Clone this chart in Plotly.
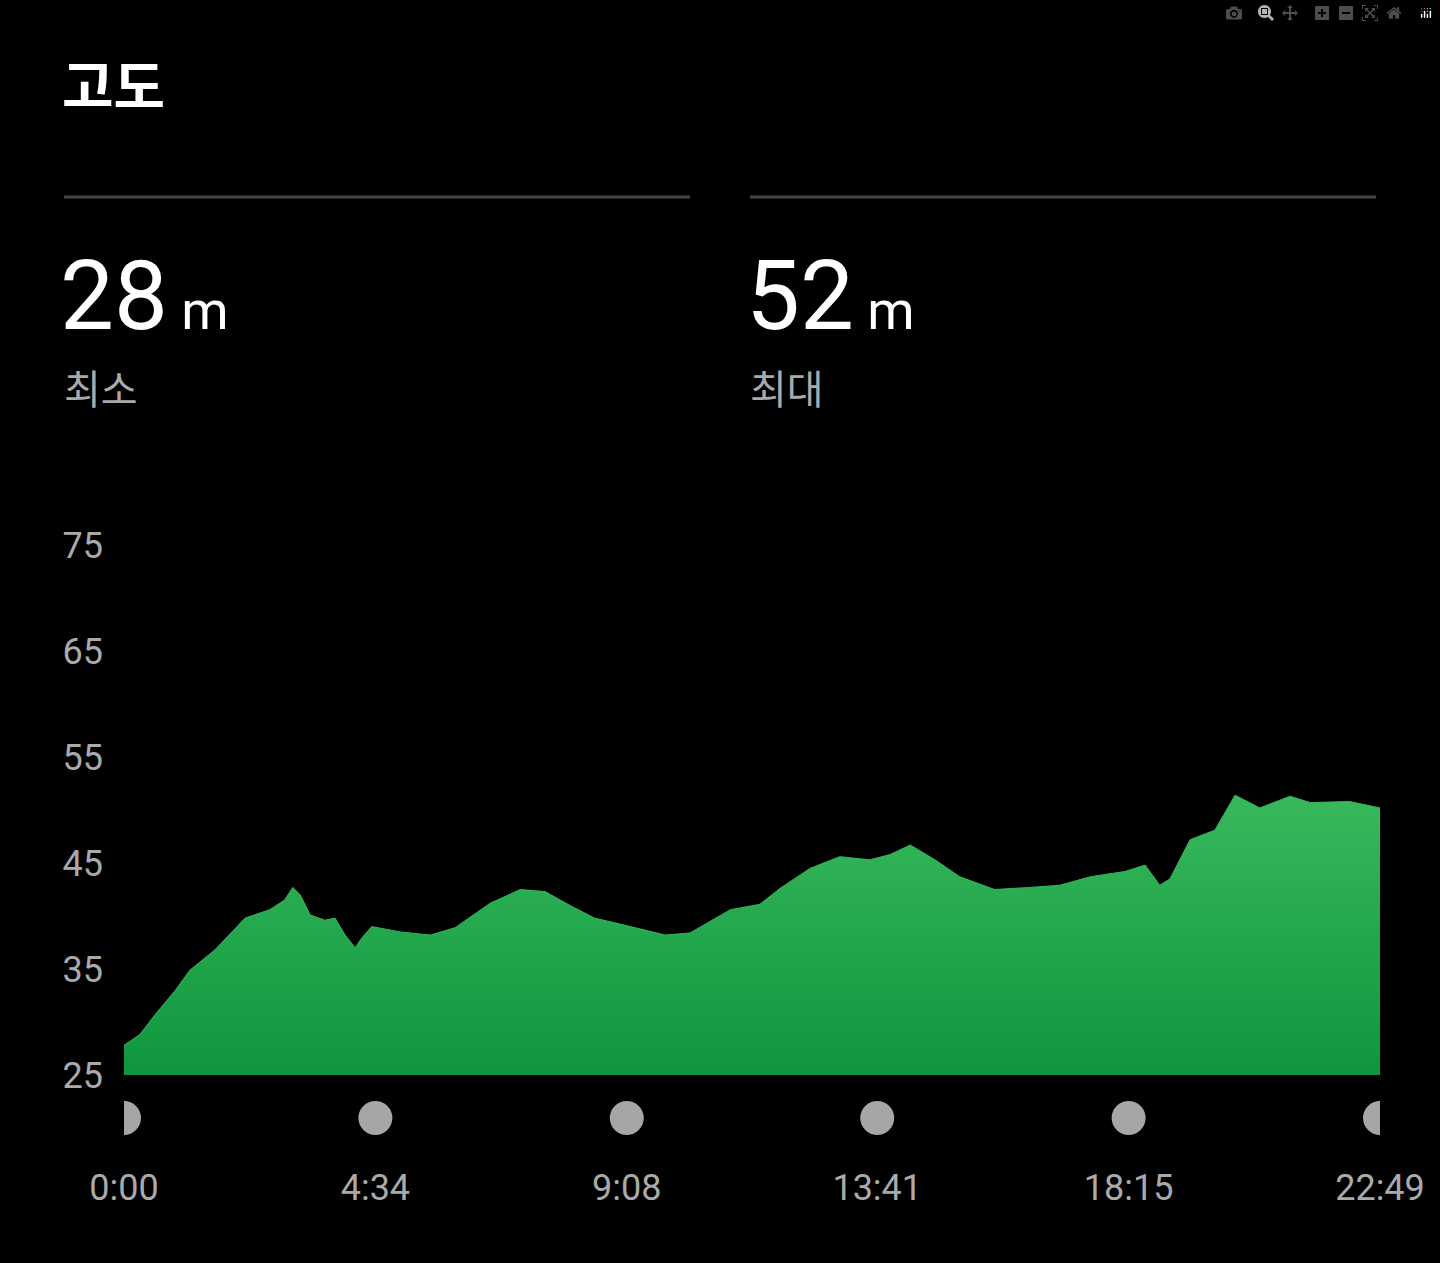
import plotly.graph_objects as go

times = [0,17,34,56,72,99,132,159,175,184,192,203,219,230,241,252,259,270,301,334,361,399,432,459,486,513,552,590,617,661,693,715,748,780,813,835,857,884,911,949,988,1020,1053,1091,1113,1129,1140,1162,1189,1211,1238,1271,1293,1336,1369]
elev = [27.8,28.8,30.7,33.0,34.9,36.8,39.8,40.6,41.5,42.7,42.0,40.1,39.6,39.8,38.2,37.0,37.9,39.0,38.5,38.2,38.9,41.2,42.5,42.3,41.0,39.8,39.0,38.2,38.4,40.6,41.1,42.6,44.5,45.6,45.3,45.8,46.7,45.3,43.7,42.5,42.7,42.9,43.7,44.2,44.8,42.9,43.5,47.2,48.1,51.4,50.2,51.3,50.7,50.8,50.2]
tick_secs = [0,274,548,821,1095,1369]
tick_text = ["0:00","4:34","9:08","13:41","18:15","22:49"]
y_ticks = [25,35,45,55,65,75]
min_val, max_val = 28, 52

FONT = "Roboto, 'Noto Sans CJK KR', sans-serif"
fig = go.Figure()
fig.add_trace(go.Scatter(x=[times[0], times[-1]], y=[25, 25], mode="lines",
                         line=dict(width=0), hoverinfo="skip", showlegend=False))
fig.add_trace(go.Scatter(x=times, y=elev, mode="lines", line=dict(width=1, color="#36b55a"),
                         fill="tonexty",
                         fillgradient=dict(type="vertical",
                                           colorscale=[[0, "#0f963e"], [1, "#38b95c"]]),
                         showlegend=False))

dot_y = -43/530
r_px = 17
shapes = [
    dict(type="line", xref="paper", yref="paper", x0=-60/1256, x1=566/1256,
         y0=1+(545-197)/530, y1=1+(545-197)/530, line=dict(color="#444444", width=3)),
    dict(type="line", xref="paper", yref="paper", x0=626/1256, x1=1252/1256,
         y0=1+(545-197)/530, y1=1+(545-197)/530, line=dict(color="#444444", width=3)),
]
for t in tick_secs:
    shapes.append(dict(type="circle", xref="x", yref="paper", xsizemode="pixel",
                       ysizemode="pixel", xanchor=t, yanchor=dot_y,
                       x0=-r_px, x1=r_px, y0=-r_px, y1=r_px,
                       fillcolor="#a6a6a6", line=dict(width=0)))

fig.update_layout(
    width=1440, height=1263, paper_bgcolor="black", plot_bgcolor="black",
    margin=dict(l=124, r=60, t=545, b=188),
    font=dict(family=FONT, color="#aaaaaa"),
    xaxis=dict(range=[0, 1369], tickvals=tick_secs, ticktext=tick_text, showgrid=False,
               zeroline=False, showline=False, ticks="", ticklabelstandoff=88,
               tickfont=dict(size=36, color="#aaaaaa")),
    yaxis=dict(range=[25, 75], tickvals=y_ticks, showgrid=False, zeroline=False,
               showline=False, ticks="", ticklabelstandoff=20,
               tickfont=dict(size=36, color="#aaaaaa")),
    shapes=shapes,
)

def ann(x, y, text, size, color, bold=False):
    fig.add_annotation(xref="paper", yref="paper", x=(x-124)/1256, y=1+(545-y)/530,
                       text=f"<b>{text}</b>" if bold else text, showarrow=False,
                       xanchor="left", yanchor="middle",
                       font=dict(size=size, color=color, family=FONT))

ann(60, 88, "고도", 56, "white", bold=True)
ann(58, 296, f"<span style='font-size:96px'>{min_val}</span> m", 54, "white")
ann(744, 296, f"<span style='font-size:96px'>{max_val}</span> m", 54, "white")
ann(62, 390, "최소", 40, "#aaaaaa")
ann(748, 390, "최대", 40, "#aaaaaa")

fig.write_html("out.html",
               post_script="document.body.style.margin='0';document.body.style.background='black';")
